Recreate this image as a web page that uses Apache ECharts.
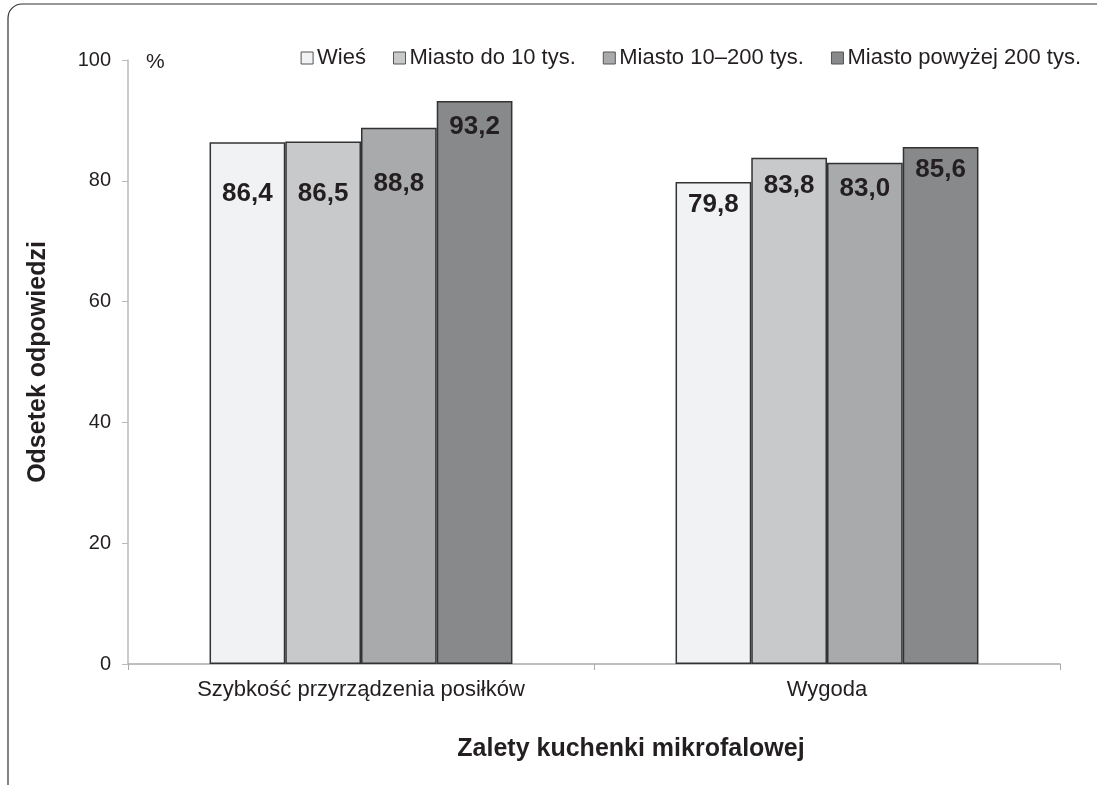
<!DOCTYPE html>
<html>
<head>
<meta charset="utf-8">
<title>Zalety kuchenki mikrofalowej</title>
<script src="https://cdn.jsdelivr.net/npm/echarts@6/dist/echarts.min.js"></script>
<style>
  html, body { margin: 0; padding: 0; background: #fff; }
  #chart { width: 1097px; height: 785px; }
</style>
</head>
<body>
<div id="chart"></div>
<script>
// dane
const categories = ['Szybkość przyrządzenia posiłków', 'Wygoda'];
const seriesNames = ['Wieś', 'Miasto do 10 tys.', 'Miasto 10–200 tys.', 'Miasto powyżej 200 tys.'];
const wies = [86.4, 79.8];
const miastoDo10 = [86.5, 83.8];
const miasto10do200 = [88.8, 83.0];
const miastoPow200 = [93.2, 85.6];
const yTicks = [0, 20, 40, 60, 80, 100];

const colors = ['#f1f2f4', '#c8c9cb', '#a9aaac', '#88898b'];
// odstęp etykiet od góry słupka (jak w oryginale)
const labelDrop = [[39, 10], [39, 15], [43, 13], [13, 10]];

const font = '"Liberation Sans", Arial, sans-serif';
const values = [wies, miastoDo10, miasto10do200, miastoPow200];

const series = seriesNames.map((name, i) => ({
  name: name,
  type: 'bar',
  barGap: '0%',
  barCategoryGap: '35%',
  itemStyle: { color: colors[i], borderColor: '#333', borderWidth: 1.5 },
  data: values[i].map((v, j) => ({
    value: v,
    label: { distance: labelDrop[i][j] }
  })),
  label: {
    show: true,
    position: 'insideTop',
    fontFamily: font,
    fontSize: 26,
    fontWeight: 'bold',
    color: '#231f20',
    formatter: p => p.value.toFixed(1).replace('.', ',')
  }
}));

const options = {
  animation: false,
  textStyle: { fontFamily: font },
  legend: {
    top: 42,
    right: 11,
    itemWidth: 12,
    itemHeight: 12,
    itemGap: 27,
    icon: 'rect',
    textStyle: { fontFamily: font, fontSize: 22, color: '#231f20', padding: [0, 0, 0, -1] },
    itemStyle: { borderColor: '#555', borderWidth: 1 },
    data: seriesNames
  },
  grid: { left: 128, right: 37, top: 60, bottom: 121 },
  xAxis: {
    type: 'category',
    data: categories,
    name: 'Zalety kuchenki mikrofalowej',
    nameLocation: 'middle',
    nameGap: 73,
    nameTextStyle: { fontFamily: font, fontSize: 25, fontWeight: 'bold', color: '#231f20', padding: [0, 0, 0, 74] },
    axisLine: { lineStyle: { color: '#aaa', width: 1.5 } },
    axisTick: { show: true, length: 6, lineStyle: { color: '#aaa' } },
    axisLabel: { fontFamily: font, fontSize: 22, color: '#231f20', margin: 15 }
  },
  yAxis: {
    type: 'value',
    min: yTicks[0],
    max: yTicks[yTicks.length - 1],
    interval: yTicks[1] - yTicks[0],
    name: 'Odsetek odpowiedzi',
    nameLocation: 'middle',
    nameGap: 77,
    nameTextStyle: { fontFamily: font, fontSize: 25, fontWeight: 'bold', color: '#231f20' },
    axisLine: { show: true, lineStyle: { color: '#bbb', width: 1.5 } },
    axisTick: { show: true, length: 6, lineStyle: { color: '#bbb' } },
    splitLine: { show: false },
    axisLabel: { fontFamily: font, fontSize: 20, color: '#231f20', margin: 17 }
  },
  graphic: [
    {
      type: 'rect',
      shape: { x: 8, y: 4, width: 1120, height: 810, r: 14 },
      style: { fill: 'none', stroke: '#333', lineWidth: 1.2 },
      silent: true
    },
    {
      type: 'text',
      left: 146,
      top: 52,
      style: { text: '%', fontFamily: font, fontSize: 21, fill: '#231f20' }
    }
  ],
  series: series
};

const chart = echarts.init(document.getElementById('chart'));
chart.setOption(options);
window.addEventListener('resize', () => chart.resize());
</script>
</body>
</html>
